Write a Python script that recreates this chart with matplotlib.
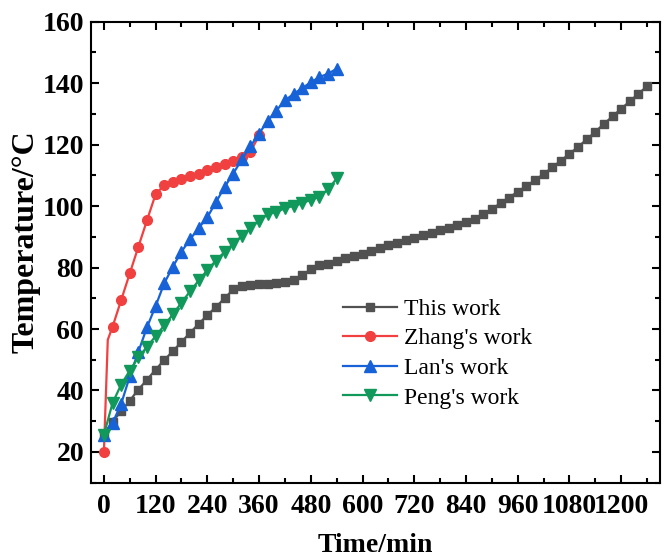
import matplotlib
matplotlib.use("Agg")
import matplotlib.pyplot as plt
from matplotlib.ticker import MultipleLocator

plt.rcParams['font.family'] = ['Liberation Serif', 'DejaVu Serif']

# this work, read every 20 min
this_t = [0, 20, 40, 60, 80, 100, 120, 140, 160, 180, 200, 220, 240, 260, 280, 300,
          320, 340, 360, 380, 400, 420, 440, 460, 480, 500, 520, 540, 560, 580, 600, 620,
          640, 660, 680, 700, 720, 740, 760, 780, 800, 820, 840, 860, 880, 900, 920, 940,
          960, 980, 1000, 1020, 1040, 1060, 1080, 1100, 1120, 1140, 1160, 1180, 1200, 1220, 1240, 1260]
this_T = [25.8, 29.9, 33.2, 36.7, 40.3, 43.5, 46.8, 49.9, 52.8, 55.8, 58.8, 61.7, 64.5, 67.2, 70.0, 72.9,
          74.0, 74.3, 74.5, 74.7, 74.9, 75.2, 75.9, 77.6, 79.4, 80.7, 81.3, 82.2, 83.0, 83.8, 84.5, 85.4,
          86.3, 87.2, 88.1, 88.9, 89.7, 90.5, 91.4, 92.2, 93.0, 93.9, 94.8, 95.8, 97.4, 99.0, 101.0, 102.8,
          104.7, 106.5, 108.5, 110.4, 112.6, 114.8, 117.0, 119.3, 121.7, 124.2, 126.8, 129.2, 131.7, 134.1, 136.6, 139.0]

zhang_t = [0, 9, 20, 40, 60, 80, 100, 120, 140, 160, 180, 200, 220, 240, 260, 280, 300, 320, 340, 360]
zhang_T = [20, 56.5, 60.7, 69.4, 78.1, 86.8, 95.4, 103.9, 106.8, 108.0, 108.8, 109.7, 110.6, 111.7,
           112.7, 113.7, 114.8, 115.9, 117.7, 123.0]

lan_t = [0, 20, 40, 60, 80, 100, 120, 140, 160, 180, 200, 220, 240, 260, 280, 300, 320, 340,
         360, 380, 400, 420, 440, 460, 480, 500, 520, 540]
lan_T = [25.6, 29.4, 35.6, 44.6, 52.6, 60.6, 67.5, 74.9, 80.3, 85.2, 89.2, 92.9, 96.4, 101.3,
         106.2, 110.6, 115.2, 119.5, 123.6, 127.8, 131.1, 134.4, 136.5, 138.4, 140.3, 142.0, 143.1, 144.7]

peng_t = [0, 20, 40, 60, 80, 100, 120, 140, 160, 180, 200, 220, 240, 260, 280, 300, 320, 340,
          360, 380, 400, 420, 440, 460, 480, 500, 520, 540]
peng_T = [25.6, 35.9, 41.9, 46.5, 50.8, 54.2, 57.7, 61.2, 64.8, 68.6, 72.3, 75.8, 79.2, 82.3,
          85.1, 87.7, 90.3, 92.8, 95.3, 97.3, 98.1, 99.3, 100.1, 100.9, 102.1, 103.0, 105.5, 109.0]

labels = ["This work", "Zhang's work", "Lan's work", "Peng's work"]
xticks = [0, 120, 240, 360, 480, 600, 720, 840, 960, 1080, 1200]
yticks = [20, 40, 60, 80, 100, 120, 140, 160]

fig = plt.figure(figsize=(6.64, 5.58), dpi=100)
ax = fig.add_axes([0.137, 0.135, 0.857, 0.826])

ax.plot(this_t, this_T, color='#515151', lw=1.6, marker='s', ms=6, label=labels[0])
ax.plot(zhang_t, zhang_T, color='#F14040', lw=1.6, marker='o', ms=7,
        markevery=[0] + list(range(2, len(zhang_t))), label=labels[1])
ax.plot(lan_t, lan_T, color='#1862D8', lw=1.6, marker='^', ms=8, label=labels[2])
ax.plot(peng_t, peng_T, color='#10995A', lw=1.6, marker='v', ms=8, label=labels[3])

ax.set_xlim(-30, 1290)
ax.set_ylim(10, 160)
ax.set_xticks(xticks)
ax.set_yticks(yticks)
ax.xaxis.set_minor_locator(MultipleLocator(60))
ax.yaxis.set_minor_locator(MultipleLocator(10))
ax.tick_params(which='both', direction='in', top=True, right=True, width=1.5)
ax.tick_params(which='major', length=6, labelsize=20)
ax.tick_params(axis='x', which='major', pad=8)
ax.tick_params(axis='y', which='major', pad=5)
ax.tick_params(which='minor', length=3.5)
for lab in ax.get_xticklabels() + ax.get_yticklabels():
    lab.set_fontweight('bold')
for s in ax.spines.values():
    s.set_linewidth(1.5)

ax.set_xlabel('Time/min', fontsize=20, fontweight='bold')
ax.set_ylabel('Temperature/°C', fontsize=23, fontweight='bold')
ax.xaxis.set_label_coords(0.5, -0.109)
ax.yaxis.set_label_coords(-0.088, 0.522)

ax.legend(loc='upper left', bbox_to_anchor=(0.443, 0.40), frameon=False, fontsize=17,
          handlelength=2.3, handletextpad=0.3, labelspacing=0.34, borderpad=0, borderaxespad=0)

fig.savefig('out.png', dpi=100)
